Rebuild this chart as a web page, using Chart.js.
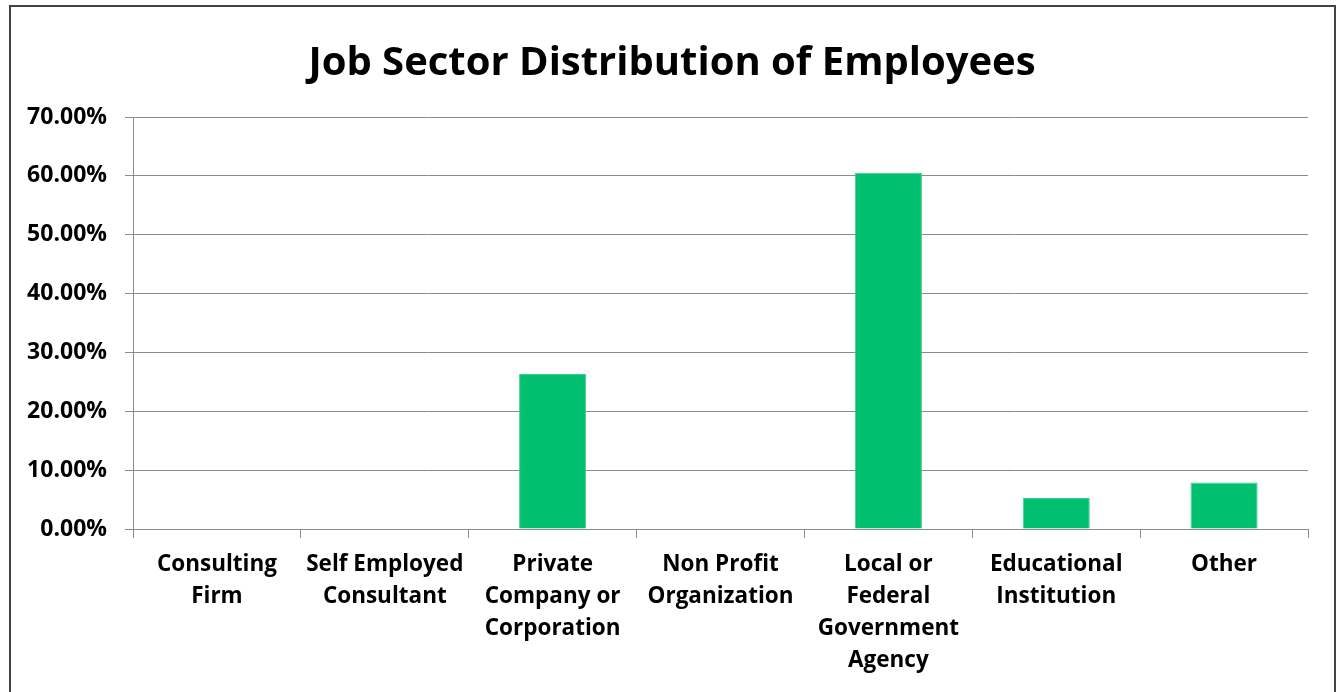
<!DOCTYPE html>
<html>
<head>
<meta charset="utf-8">
<script src="https://cdn.jsdelivr.net/npm/chart.js@4/dist/chart.umd.min.js"></script>
<style>
  html, body { margin: 0; padding: 0; background: #ffffff; }
  #wrap { position: relative; width: 1340px; height: 692px; }
</style>
</head>
<body>
<div id="wrap"><canvas id="c" width="1340" height="692"></canvas></div>
<script>
// Job sector categories (multi-line labels) and share of employees per sector
const sectors = [
  ["Consulting", "Firm"],
  ["Self Employed", "Consultant"],
  ["Private", "Company or", "Corporation"],
  ["Non Profit", "Organization"],
  ["Local or", "Federal", "Government", "Agency"],
  ["Educational", "Institution"],
  ["Other"]
];
const shares = [0, 0, 26.32, 0, 60.53, 5.26, 7.89];
const yTicks = [0, 10, 20, 30, 40, 50, 60, 70];

const FONT = "'Open Sans', Lato, 'Liberation Sans', sans-serif";

// outer frame around the whole chart, and title centred within the frame
const framePlugin = {
  id: 'frame',
  afterLayout(chart) {
    const t = chart.titleBlock;
    if (t) { t.left = 36; t.width = t.right - t.left; }
  },
  afterDraw(chart) {
    const ctx = chart.ctx;
    ctx.save();
    ctx.strokeStyle = '#444444';
    ctx.lineWidth = 2;
    ctx.strokeRect(10, 6, 1325, 700);
    ctx.restore();
  }
};

new Chart(document.getElementById('c'), {
  type: 'bar',
  data: {
    labels: sectors,
    datasets: [{
      data: shares,
      backgroundColor: '#00BF6F',
      borderColor: '#3ccf8e',
      borderWidth: 1,
      categoryPercentage: 0.4,
      barPercentage: 1.0
    }]
  },
  options: {
    responsive: false,
    animation: false,
    layout: { padding: { left: 0, right: 32, top: 0, bottom: 0 } },
    plugins: {
      legend: { display: false },
      tooltip: { enabled: false },
      title: {
        display: true,
        text: 'Job Sector Distribution of Employees',
        color: '#000000',
        font: { family: FONT, size: 40, weight: 'bold', lineHeight: 1.2 },
        padding: { top: 40, bottom: 29 }
      }
    },
    scales: {
      x: {
        grid: {
          display: true,
          drawOnChartArea: false,
          drawTicks: true,
          tickLength: 9,
          color: '#8c8c8c',
          offset: true
        },
        border: { display: true, color: '#8c8c8c', width: 1 },
        ticks: {
          color: '#000000',
          font: { family: FONT, size: 22.5, weight: 'bold', lineHeight: 1.42 },
          padding: 11,
          maxRotation: 0,
          autoSkip: false
        },
        afterFit(scale) { scale.height = 163; }
      },
      y: {
        min: 0,
        max: 70,
        afterBuildTicks(scale) { scale.ticks = yTicks.map(v => ({ value: v })); },
        grid: {
          color: '#8c8c8c',
          tickLength: 8,
          drawTicks: true
        },
        border: { display: true, color: '#8c8c8c', width: 1 },
        ticks: {
          color: '#000000',
          font: { family: FONT, size: 23, weight: 'bold' },
          padding: 18,
          callback: v => v.toFixed(2) + '%'
        },
        afterFit(scale) { scale.width = 133; }
      }
    }
  },
  plugins: [framePlugin]
});
</script>
</body>
</html>
